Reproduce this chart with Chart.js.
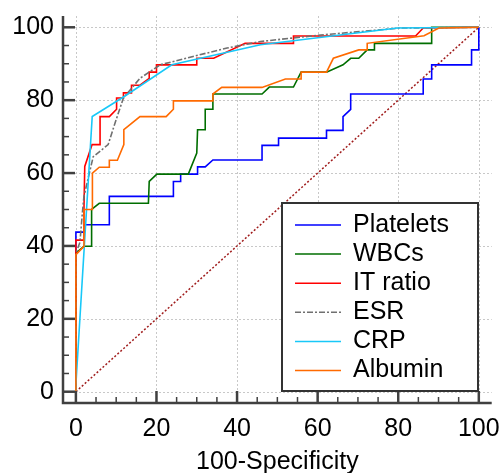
<!DOCTYPE html>
<html>
<head>
<meta charset="utf-8">
<script src="https://cdn.jsdelivr.net/npm/chart.js@4"></script>
<style>
html,body{margin:0;padding:0;background:#fff;}
#c{display:block;}
</style>
</head>
<body>
<canvas id="c" width="502" height="473"></canvas>
<script>
// ---- data ----
const seriesNames = ['Platelets','WBCs','IT ratio','ESR','CRP','Albumin'];
const xTicks = [0,20,40,60,80,100];
const yTicks = [0,20,40,60,80,100];

const platelets = [[0,0],[0,43.8],[2,43.8],[2,45.8],[8.3,45.8],[8.3,53.6],[24.2,53.6],[24.2,57.7],[26,57.7],[26,59.7],[30.2,59.7],[30.2,61.7],[32.1,61.7],[34,63.6],[46.2,63.6],[46.2,67.6],[50.3,67.6],[50.3,69.6],[62.2,69.6],[62.2,71.7],[66.3,71.7],[66.3,75.5],[68.2,77.5],[68.2,81.7],[86.2,81.7],[86.2,85.8],[88.3,85.8],[88.3,89.7],[98.2,89.7],[98.2,93.8],[100,93.8],[100,100]];
const wbcs = [[0,0],[0,38],[2,39.9],[3.9,39.9],[3.9,50],[5.8,51.7],[18,51.7],[18.2,57.7],[20.1,59.7],[27.9,59.7],[30,65.5],[30.2,71.9],[32.1,71.9],[32.1,77.5],[34,77.5],[34,81.7],[46.2,81.7],[48,83.6],[54,83.6],[55.9,87.7],[62.2,87.7],[66.3,89.7],[68.2,91.5],[70.2,91.5],[72.3,93.8],[74.1,93.8],[74.1,95.6],[88.3,95.6],[88.3,100],[100,100]];
const itRatio = [[0,0],[0,41.6],[1.8,41.6],[2,50],[2.2,61.8],[4,67.8],[6,67.8],[6,75.5],[8.3,75.5],[10.1,77.5],[10.1,80.6],[11.8,80.6],[11.8,82],[13.8,82],[13.8,84.1],[15.9,84.1],[18.2,86],[18.2,87.7],[20,87.7],[20,89.7],[30,89.7],[30,91.5],[34.2,91.5],[42,95.6],[54,95.6],[54,97.6],[84.3,97.6],[86.2,99.8],[100,100]];
const esr = [[0,0],[0,38],[1,41],[1.6,49],[2,53.6],[4.3,64.5],[8,67.8],[9.7,73.7],[11.8,80.6],[15.9,86],[20.9,89.7],[29.1,92],[37.5,94.3],[45.8,96.1],[60,97.8],[80.6,99.8],[100,100]];
const crp = [[0,0],[0,2],[4.05,75.5],[12,81],[23.8,89.7],[45.8,95.2],[79.8,99.8],[100,100]];
const albumin = [[0,0],[0,37.6],[2,39.9],[2,50],[4.1,50],[4.1,60],[5.8,61.6],[8.3,61.6],[8.3,63.5],[10.3,63.5],[11.9,67.8],[11.9,71.9],[15.9,75.5],[22.4,75.5],[24.2,77.5],[24.2,79.8],[34,79.8],[34,81.7],[36.2,83.5],[46.2,83.5],[52,85.8],[55.9,85.8],[55.9,87.7],[62.2,87.7],[63.9,91.5],[70.2,93.8],[72.3,93.8],[72.3,95.6],[86.4,97.7],[90.1,99.8],[100,100]];
const diagonal = [[0,0],[100,100]];

const seriesData = [platelets, wbcs, itRatio, esr, crp, albumin];
const seriesColors = ['#0000ff','#006e00','#ff0000','#707070','#18c8f8','#ff6a00'];
const seriesDash = [[],[],[],[6,2,2,2],[],[]];

const toPts = a => a.map(p => ({x:p[0], y:p[1]}));

const datasets = seriesNames.map((n,i) => ({
  label: n,
  data: toPts(seriesData[i]),
  borderColor: seriesColors[i],
  borderDash: seriesDash[i],
  borderWidth: 1.6,
  showLine: true,
  pointRadius: 0,
  fill: false,
  tension: 0,
  order: 6 - i
}));
datasets.push({
  label: '_diag',
  data: toPts(diagonal),
  borderColor: '#a01c1c',
  borderDash: [2,2],
  borderWidth: 1.5,
  showLine: true,
  pointRadius: 0,
  fill: false,
  order: 10
});

const FONT = '"Liberation Sans", Arial, sans-serif';

const axesPlugin = {
  id: 'axesPlugin',
  beforeDatasetsDraw(chart) {
    const {ctx, chartArea: a, scales: {x, y}} = chart;
    ctx.save();
    ctx.strokeStyle = '#c8c8c8';
    ctx.lineWidth = 1;
    ctx.setLineDash([2,2]);
    xTicks.forEach(v => {
      const px = Math.round(x.getPixelForValue(v)) + 0.5;
      ctx.beginPath(); ctx.moveTo(px, a.top); ctx.lineTo(px, a.bottom); ctx.stroke();
    });
    yTicks.forEach(v => {
      const py = Math.round(y.getPixelForValue(v)) + 0.5;
      ctx.beginPath(); ctx.moveTo(a.left, py); ctx.lineTo(a.right, py); ctx.stroke();
    });
    ctx.restore();
  },
  afterDatasetsDraw(chart) {
    const {ctx, chartArea: a, scales: {x, y}} = chart;
    ctx.save();
    ctx.strokeStyle = '#404040';
    ctx.setLineDash([]);
    ctx.lineWidth = 2.5;
    ctx.beginPath(); ctx.moveTo(a.left, a.top); ctx.lineTo(a.left, a.bottom); ctx.lineTo(a.right, a.bottom); ctx.stroke();
    for (let v = 0; v <= 100; v += 5) {
      const major = v % 20 === 0;
      const len = major ? 12 : 6;
      ctx.lineWidth = major ? 2.5 : 1.5;
      const px = x.getPixelForValue(v);
      ctx.beginPath(); ctx.moveTo(px, a.bottom); ctx.lineTo(px, a.bottom - len); ctx.stroke();
      const py = y.getPixelForValue(v);
      ctx.beginPath(); ctx.moveTo(a.left, py); ctx.lineTo(a.left + len, py); ctx.stroke();
    }
    ctx.restore();
  },
  afterDraw(chart) {
    const {ctx} = chart;
    const box = {l: 282, t: 203, r: 478, b: 391};
    ctx.save();
    ctx.fillStyle = '#fff';
    ctx.fillRect(box.l, box.t, box.r - box.l, box.b - box.t);
    ctx.strokeStyle = '#333';
    ctx.lineWidth = 2;
    ctx.strokeRect(box.l, box.t, box.r - box.l, box.b - box.t);
    ctx.font = '25px ' + FONT;
    ctx.textBaseline = 'middle';
    ctx.textAlign = 'left';
    chart.data.datasets.forEach((ds, i) => {
      if (ds.label.startsWith('_')) return;
      const cy = 225 + i * 29.1;
      ctx.strokeStyle = ds.borderColor;
      ctx.lineWidth = 1.5;
      ctx.setLineDash(ds.borderDash || []);
      ctx.beginPath(); ctx.moveTo(295, cy); ctx.lineTo(341, cy); ctx.stroke();
      ctx.setLineDash([]);
      ctx.fillStyle = '#000';
      ctx.fillText(ds.label, 353, cy);
    });
    ctx.restore();
  }
};

const zeroPad = s => { s.paddingLeft = 0; s.paddingRight = 0; s.paddingTop = 0; s.paddingBottom = 0; };

new Chart(document.getElementById('c'), {
  type: 'scatter',
  data: { datasets },
  options: {
    responsive: false,
    animation: false,
    devicePixelRatio: 1,
    layout: { padding: { left: 0, right: 10.3, top: 16, bottom: 0 } },
    plugins: { legend: { display: false }, tooltip: { enabled: false } },
    scales: {
      x: {
        type: 'linear', min: -3.2, max: 103.2,
        grid: { display: false, drawTicks: false },
        border: { display: false },
        afterBuildTicks: s => { s.ticks = xTicks.map(v => ({value: v})); },
        afterFit: s => { s.height = 70; zeroPad(s); },
        ticks: { color: '#000', font: { family: FONT, size: 25 }, padding: 11, maxRotation: 0, autoSkip: false },
        title: { display: true, text: '100-Specificity', color: '#000', font: { family: FONT, size: 25, lineHeight: '22px' }, padding: 0 }
      },
      y: {
        type: 'linear', min: -3.1, max: 103.1,
        grid: { display: false, drawTicks: false },
        border: { display: false },
        afterBuildTicks: s => { s.ticks = yTicks.map(v => ({value: v})); },
        afterFit: s => { s.width = 63; zeroPad(s); },
        ticks: { color: '#000', font: { family: FONT, size: 25 }, padding: 9, autoSkip: false }
      }
    }
  },
  plugins: [axesPlugin]
});
</script>
</body>
</html>
